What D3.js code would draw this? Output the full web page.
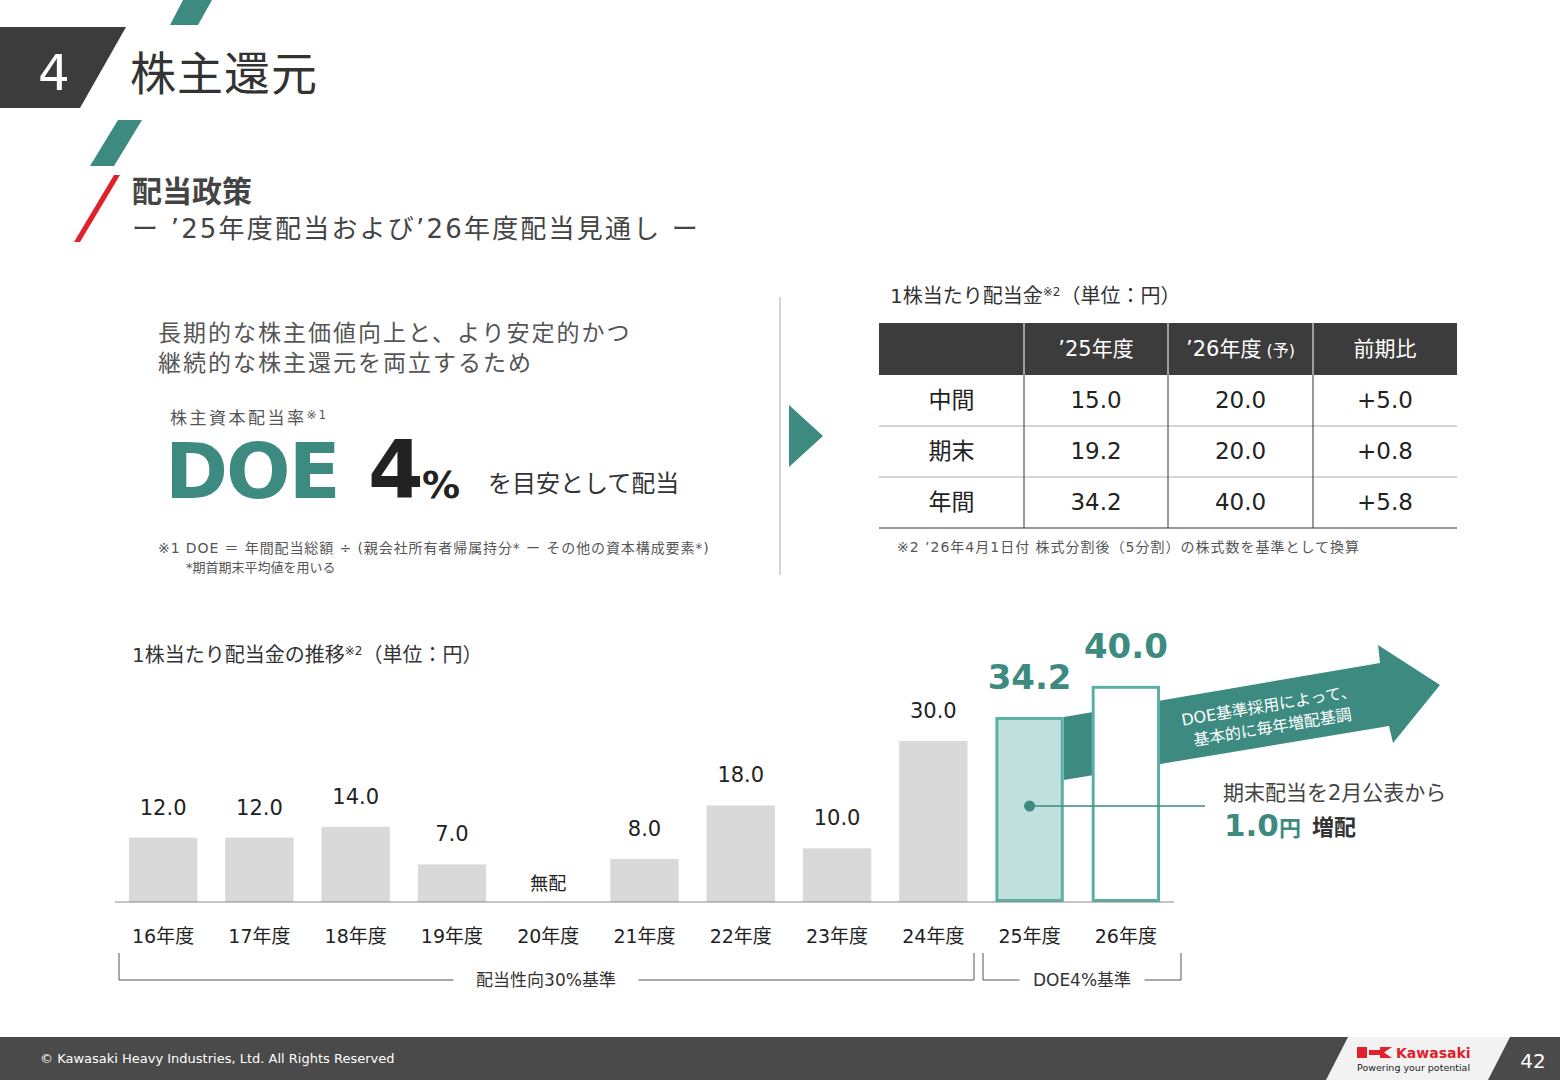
<!DOCTYPE html>
<html><head><meta charset="utf-8">
<script src="https://cdn.jsdelivr.net/npm/d3@7"></script>
<style>body{margin:0;background:#fff}svg{display:block}text{font-family:"DejaVu Sans","Noto Sans CJK JP",sans-serif}</style>
</head><body>
<script>
const years=["16年度","17年度","18年度","19年度","20年度","21年度","22年度","23年度","24年度","25年度","26年度"];
const dividends=[12.0,12.0,14.0,7.0,0,8.0,18.0,10.0,30.0,34.2,40.0];
const labels=["12.0","12.0","14.0","7.0","無配","8.0","18.0","10.0","30.0","34.2","40.0"];
const tableHead=["","’25年度","’26年度","前期比"];
const tableRows=[["中間","15.0","20.0","+5.0"],["期末","19.2","20.0","+0.8"],["年間","34.2","40.0","+5.8"]];

const teal="#3d8b80",dark="#3c3c3c";
const svg=d3.select("body").append("svg").attr("width",1560).attr("height",1080);
const T=(x,y,s,o={})=>{const t=svg.append("text").attr("x",x).attr("y",y).text(s).attr("font-size",o.size||20).attr("fill",o.fill||"#333").attr("font-weight",o.w||400).attr("text-anchor",o.a||"start");if(o.ls)t.attr("letter-spacing",o.ls);return t;};
const sup=(t,s,size)=>{t.append("tspan").attr("font-size",size).attr("dy",-7).text(s);return t;};

// header
svg.append("polygon").attr("points","0,27 126,27 80,108 0,108").attr("fill",dark);
svg.append("polygon").attr("points","183,0 212,0 198,25 170,25").attr("fill",teal);
T(38,90,"4",{size:50,fill:"#fff"});
T(130,90,"株主還元",{size:46,fill:"#333",ls:1});
svg.append("polygon").attr("points","118,120 142,120 114,166 90,166").attr("fill",teal);
svg.append("polygon").attr("points","114,175 120,175 80,242 74,242").attr("fill","#e0202a");
T(132,202,"配当政策",{size:30,w:700,fill:"#444"});
T(132,238,"ー ’25年度配当および’26年度配当見通し ー",{size:26,fill:"#444",ls:2.2});

// left block
T(158,341,"長期的な株主価値向上と、より安定的かつ",{size:23,fill:"#555",ls:2});
T(158,371,"継続的な株主還元を両立するため",{size:23,fill:"#555",ls:2});
const t1=T(170,424,"株主資本配当率",{size:17,fill:"#555",ls:2.5}); t1.append("tspan").attr("font-size",12).attr("dy",-5).attr("letter-spacing",2).text("※1");
T(165,498,"DOE",{size:76,w:700,fill:teal,ls:-2});
T(368,498,"4",{size:80,w:700,fill:"#222"});
T(422,498,"%",{size:38,w:700,fill:"#222"});
T(488,492,"を目安として配当",{size:24,fill:"#333"});
T(158,553,"※1 DOE ＝ 年間配当総額 ÷ (親会社所有者帰属持分* ー その他の資本構成要素*)",{size:14,fill:"#555",ls:0.9});
T(186,572,"*期首期末平均値を用いる",{size:13,fill:"#555"});
svg.append("line").attr("x1",780).attr("x2",780).attr("y1",297).attr("y2",575).attr("stroke","#aaa");
svg.append("polygon").attr("points","789,405 823,436 789,467").attr("fill",teal);

// table
const t2=T(890,303,"1株当たり配当金",{size:20,fill:"#333"}); sup(t2,"※2",12).append("tspan").attr("dy",7).attr("font-size",20).text("（単位：円）");
const tx=[879,1024,1168,1313,1457];
svg.append("rect").attr("x",879).attr("y",323).attr("width",578).attr("height",52).attr("fill",dark);
tableHead.forEach((h,i)=>{if(h){const t=T((tx[i]+tx[i+1])/2,356,h,{size:21,fill:"#fff",a:"middle"});if(i==2)t.append("tspan").attr("font-size",16).text(" (予)");}});
tableRows.forEach((r,j)=>{const y=375+j*51;
 r.forEach((c,i)=>T((tx[i]+tx[i+1])/2,y+33,c,{size:23,fill:"#222",a:"middle"}));
 svg.append("line").attr("x1",879).attr("x2",1457).attr("y1",y+51).attr("y2",y+51).attr("stroke",j==2?"#333":"#aaa");});
[1,2,3].forEach(i=>svg.append("line").attr("x1",tx[i]).attr("x2",tx[i]).attr("y1",375).attr("y2",528).attr("stroke","#333"));
[1,2,3].forEach(i=>svg.append("line").attr("x1",tx[i]).attr("x2",tx[i]).attr("y1",323).attr("y2",375).attr("stroke","#fff"));
T(897,552,"※2 ’26年4月1日付 株式分割後（5分割）の株式数を基準として換算",{size:14,fill:"#555",ls:1});

// chart
const t3=T(132,662,"1株当たり配当金の推移",{size:20,fill:"#333"}); sup(t3,"※2",12).append("tspan").attr("dy",7).attr("font-size",20).text("（単位：円）");
const x=d3.scaleBand().domain(years).range([115,1174]).paddingInner(0.29).paddingOuter(0.145);
const y=d3.scaleLinear().domain([0,30]).range([902,741]);
const bw=x.bandwidth();
svg.append("polygon").attr("points",[[x("25年度")+bw,717],[1380,663],[1378,645],[1440,685],[1393,743],[1389,726],[x("25年度")+bw,780]].join(" ")).attr("fill",teal);
svg.append("g").attr("transform","translate(1270,713) rotate(-9.5)").call(g=>{
 g.append("text").attr("text-anchor","middle").attr("y",-2).attr("fill","#fff").attr("font-size",16).text("DOE基準採用によって、");
 g.append("text").attr("text-anchor","middle").attr("y",20).attr("fill","#fff").attr("font-size",16).text("基本的に毎年増配基調");});
years.forEach((yr,i)=>{
 const v=dividends[i],bx=x(yr);
 if(i<9){svg.append("rect").attr("x",bx).attr("y",y(v)).attr("width",bw).attr("height",902-y(v)).attr("fill","#d9d9d9");
  T(bx+bw/2,i==4?890:y(v)-23,labels[i],{size:i==4?18:21,fill:"#222",a:"middle"});}
 else{svg.append("rect").attr("x",bx+1.5).attr("y",y(v)).attr("width",bw-3).attr("height",902-y(v)-1.5).attr("fill",i==9?"#bfe0dc":"#fff").attr("stroke","#5bb0a6").attr("stroke-width",3);
  T(bx+bw/2,y(v)-29,labels[i],{size:34,w:700,fill:teal,a:"middle"});}
 T(bx+bw/2,943,yr,{size:19,fill:"#222",a:"middle"});
});
svg.append("line").attr("x1",115).attr("x2",1174).attr("y1",902).attr("y2",902).attr("stroke","#888");
const cx=x("25年度")+bw/2;
svg.append("line").attr("x1",cx).attr("x2",1205).attr("y1",806).attr("y2",806).attr("stroke",teal).attr("stroke-width",1.5);
svg.append("circle").attr("cx",cx).attr("cy",806).attr("r",5.5).attr("fill",teal);
T(1223,800,"期末配当を2月公表から",{size:21,fill:"#444"});
const t4=T(1224,836,"1.0",{size:31,w:700,fill:teal}); t4.append("tspan").attr("font-size",22).text("円");
T(1312,835,"増配",{size:22,w:700,fill:"#333"});
const br=(x1,x2,lab,lx,w)=>{svg.append("path").attr("d",`M${x1},953V980H${x2}V953`).attr("fill","none").attr("stroke","#555");
 svg.append("rect").attr("x",lx-w/2).attr("y",970).attr("width",w).attr("height",20).attr("fill","#fff");
 T(lx,986,lab,{size:17,fill:"#333",a:"middle"});};
br(119,974,"配当性向30%基準",546,185);
br(983,1181,"DOE4%基準",1082,125);

// footer
svg.append("rect").attr("x",0).attr("y",1037).attr("width",1560).attr("height",43).attr("fill","#4a4a4a");
T(40,1063,"© Kawasaki Heavy Industries, Ltd. All Rights Reserved",{size:13,fill:"#fff"});
svg.append("polygon").attr("points","1348,1037 1510,1037 1488,1080 1326,1080").attr("fill","#f2f2f2");
svg.append("rect").attr("x",1357).attr("y",1047).attr("width",10).attr("height",11).attr("fill","#e0202a");
svg.append("polygon").attr("points","1369,1050 1380,1050 1380,1047 1392,1047 1384,1052.5 1392,1058 1380,1058 1380,1055 1369,1055").attr("fill","#e0202a");
T(1396,1058,"Kawasaki",{size:14,w:700,fill:"#e0202a"});
T(1357,1071,"Powering your potential",{size:9.5,fill:"#222"});
T(1533,1068,"42",{size:20,fill:"#fff",a:"middle"});
</script></body></html>
